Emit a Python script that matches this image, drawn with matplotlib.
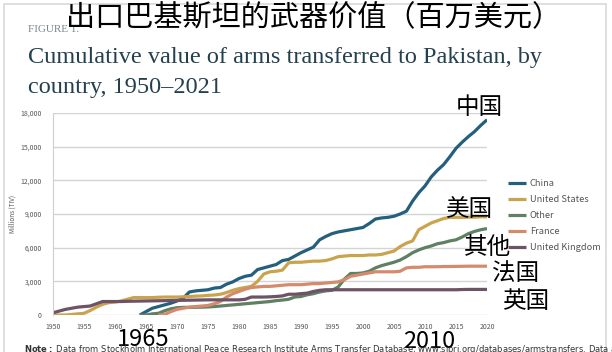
import numpy as np
import matplotlib.pyplot as plt
from matplotlib.patches import Rectangle

plt.rcParams['font.family'] = ['Noto Sans CJK SC', 'DejaVu Sans']

years = np.arange(1950, 2021)
nan = np.nan

# cumulative values, millions TIV, one per year 1950-2020
china = [nan] * 14 + [
    0, 300, 600, 750, 900, 1050, 1250, 1500, 2050, 2150,
    2200, 2250, 2400, 2450, 2750, 2950, 3250, 3450, 3550, 4050,
    4200, 4350, 4500, 4850, 4950, 5250, 5550, 5800, 6050, 6700,
    7000, 7250, 7400, 7500, 7600, 7700, 7800, 8150, 8550, 8650,
    8700, 8800, 9000, 9250, 10150, 10900, 11500, 12300, 12900, 13400,
    14100, 14850, 15400, 15900, 16350, 16900, 17400]
united_states = [
    0, 0, 0, 50, 100, 150, 400, 700, 950, 1100,
    1150, 1250, 1400, 1550, 1550, 1550, 1550, 1580, 1600, 1600,
    1600, 1620, 1650, 1680, 1700, 1750, 1780, 1850, 2000, 2200,
    2350, 2450, 2550, 3000, 3650, 3850, 3900, 4000, 4650, 4700,
    4700, 4750, 4800, 4800, 4850, 5000, 5200, 5250, 5300, 5300,
    5300, 5350, 5350, 5400, 5550, 5700, 6100, 6400, 6600, 7600,
    7900, 8200, 8400, 8600, 8700, 8700, 8700, 8720, 8720, 8750, 8750]
other = [nan] * 14 + [
    0, 0, 100, 150, 380, 550, 650, 680, 680, 690,
    700, 720, 750, 800, 850, 900, 950, 1000, 1050, 1100,
    1150, 1200, 1280, 1330, 1400, 1600, 1650, 1800, 1900, 2050,
    2150, 2200, 2500, 3200, 3700, 3700, 3750, 3900, 4200, 4400,
    4550, 4700, 4900, 5200, 5550, 5800, 6000, 6150, 6350, 6450,
    6600, 6700, 6950, 7250, 7450, 7600, 7700]
france = [nan] * 17 + [
    0, 50, 300, 500, 600, 700, 750, 800, 850, 1000,
    1200, 1600, 1900, 2100, 2300, 2450, 2500, 2550, 2550, 2600,
    2650, 2700, 2700, 2700, 2750, 2800, 2800, 2850, 2900, 2950,
    3150, 3450, 3550, 3650, 3750, 3850, 3850, 3850, 3850, 3900,
    4200, 4250, 4250, 4300, 4300, 4300, 4320, 4320, 4330, 4340,
    4350, 4350, 4350, 4350]
united_kingdom = [
    200, 350, 500, 600, 700, 750, 800, 1000, 1200, 1200,
    1200, 1200, 1220, 1230, 1240, 1250, 1260, 1270, 1280, 1290,
    1300, 1310, 1320, 1330, 1340, 1350, 1350, 1350, 1350, 1350,
    1350, 1400, 1600, 1600, 1600, 1620, 1650, 1700, 1850, 1850,
    1900, 1950, 2100, 2200, 2250, 2250, 2250, 2250, 2250, 2250,
    2250, 2250, 2250, 2250, 2250, 2250, 2250, 2250, 2250, 2250,
    2250, 2250, 2250, 2250, 2250, 2250, 2270, 2280, 2280, 2280, 2280]

series = ['China', 'United States', 'Other', 'France', 'United Kingdom']
values = [china, united_states, other, france, united_kingdom]
colors = ['#245f7e', '#c9a44c', '#5f8063', '#d48a6c', '#6e5266']
cn_labels = ['中国', '美国', '其他', '法国', '英国']

W, H = 612, 352
fig = plt.figure(figsize=(W / 100, H / 100), dpi=100)
fig.patches.append(Rectangle((4 / W, -0.1), (W - 10) / W, 1.1 - 4 / H, transform=fig.transFigure,
                             fill=False, edgecolor='#d9d9d9', lw=1.2))

ax = fig.add_axes([53 / W, (H - 315) / H, (487 - 53) / W, (315 - 113) / H])
for name, vals, c in zip(series, values, colors):
    ax.plot(years, vals, color=c, lw=2.3, label=name, solid_capstyle='butt')

ax.set_xlim(1950, 2020)
ax.set_ylim(0, 18000)
ax.set_yticks(np.arange(0, 18001, 3000))
ax.set_yticklabels(['{:,}'.format(v) for v in range(0, 18001, 3000)])
ax.set_xticks(np.arange(1950, 2021, 5))
ax.yaxis.grid(True, color='#d4d4d4', lw=1)
ax.set_axisbelow(True)
for s in ['top', 'right', 'bottom']:
    ax.spines[s].set_visible(False)
ax.spines['left'].set_color('#cfcfcf')
ax.tick_params(length=0, labelsize=5, labelcolor='#555555', pad=6)
ax.tick_params(axis='y', pad=8)
ax.set_ylabel('Millions (TIV)', fontsize=4.5, color='#555555')
ax.yaxis.set_label_coords(-0.083, 0.5)

leg = ax.legend(loc='upper left', bbox_to_anchor=(1.03, 0.715), frameon=False, fontsize=6.7,
                handlelength=1.9, labelspacing=0.75, handletextpad=0.4)
for t in leg.get_texts():
    t.set_color('#555555')

# header texts
fig.text(28 / W, 1 - 30 / H, 'FIGURE 1.', fontsize=8, color='#7a8790', family='Liberation Serif', va='center')
fig.text(28 / W, 1 - 58 / H, 'Cumulative value of arms transferred to Pakistan, by', fontsize=17.5,
         color='#24404f', family='Liberation Serif', va='center')
fig.text(28 / W, 1 - 87 / H, 'country, 1950–2021', fontsize=17.5, color='#24404f',
         family='Liberation Serif', va='center')
fig.text(314 / W, 1 - 18 / H, '出口巴基斯坦的武器价值（百万美元）', fontsize=21, color='black',
         ha='center', va='center')

# chinese annotations
cn_pos = [(479, 107), (470, 210), (488, 247), (516, 274), (526, 302)]
for lab, (px, py) in zip(cn_labels, cn_pos):
    fig.text(px / W, 1 - py / H, lab, fontsize=17, ha='center', va='center')
fig.text(143 / W, 1 - 339 / H, '1965', fontsize=17, ha='center', va='center')
fig.text(429 / W, 1 - 341 / H, '2010', fontsize=17, ha='center', va='center')

fig.text(24 / W, 1 - 350 / H, r'$\bf{Note:}$ Data from Stockholm International Peace Research Institute Arms Transfer Database, www.sipri.org/databases/armstransfers. Data are',
         fontsize=6, color='#333333', va='center', family='DejaVu Sans')

fig.savefig('out.png', dpi=100)
